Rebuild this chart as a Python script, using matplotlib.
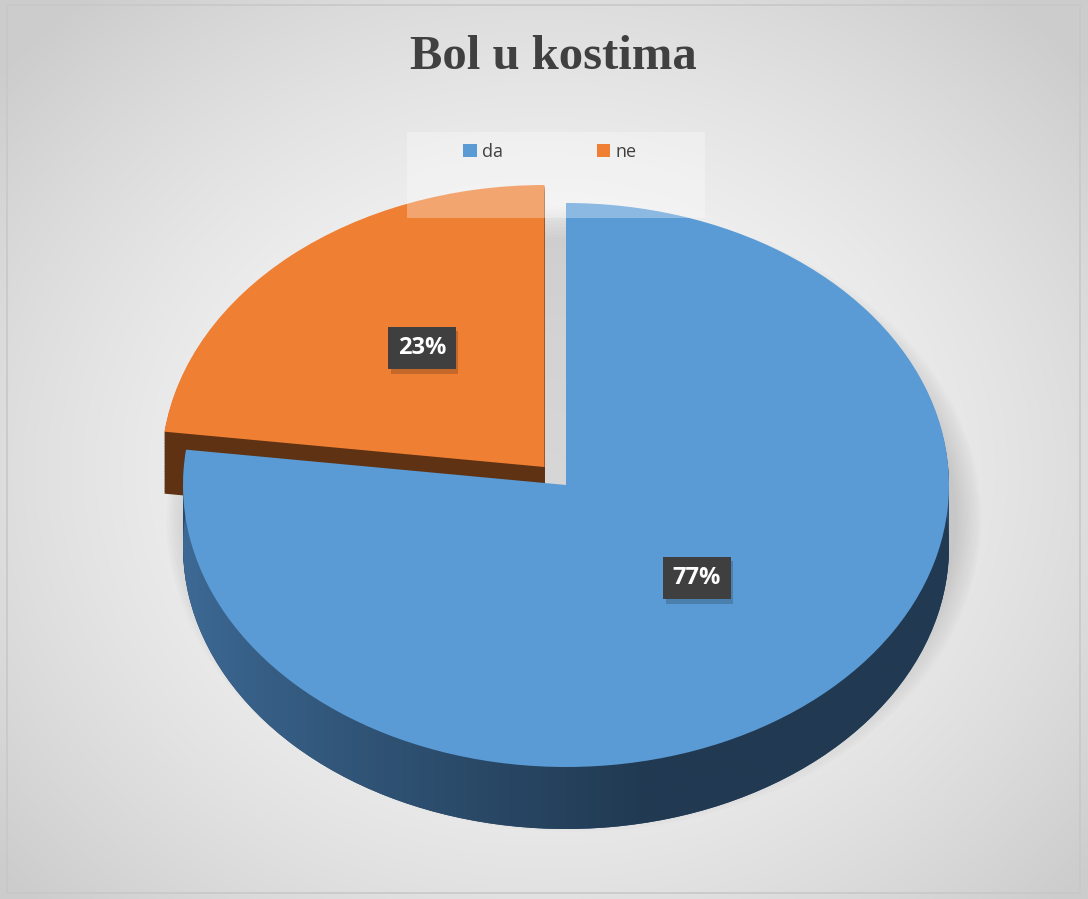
import numpy as np
import matplotlib.pyplot as plt
from matplotlib.patches import Ellipse, Rectangle
import matplotlib.colors as mcolors
import matplotlib.patheffects as pe

# podaci
kategorije = ['da', 'ne']
vrijednosti = [77, 23]
oznake = ['77%', '23%']
boje = ['#5b9bd5', '#ef7f32']
boje_strane = ['#2b4a6a', '#5e3213']

W, H = 1088, 899
fig = plt.figure(figsize=(W / 100, H / 100), dpi=100)

# pozadina - radijalni gradijent
bg = fig.add_axes([0, 0, 1, 1])
yy, xx = np.mgrid[0:H, 0:W]
r = np.sqrt(((xx - 545) / 720.0) ** 2 + ((yy - 470) / 620.0) ** 2)
r = np.clip(r, 0, 1)
c0, c1 = 0.985, 0.80
img = c0 + (c1 - c0) * r ** 1.6
bg.imshow(np.dstack([img, img, img]), extent=[0, W, H, 0], aspect='auto')
bg.set_xlim(0, W)
bg.set_ylim(H, 0)
bg.axis('off')
bg.add_patch(Rectangle((7, 5), 1073, 888, fill=False, edgecolor='#c8c8c8', lw=1.2))
bg.set_zorder(0)

# geometrija pite (pikseli)
cx, cy, rx, ry = 566, 485, 383, 282
dubina = 62 / ry
x0, x1 = cx - rx, cx + rx
ytop, ybot = 150, 880
ax = fig.add_axes([x0 / W, 1 - ybot / H, (x1 - x0) / W, (ybot - ytop) / H])
ax.set_zorder(1)

# sjena
for i in range(10):
    ax.add_patch(Ellipse((0.02, -0.55 * dubina), 2 * (1.0 + 0.007 * i), 2 * (1.0 + 0.012 * i),
                         facecolor='#808080', alpha=0.03, lw=0, zorder=0, clip_on=False))

explode = [0, 0.085]
n_sloj = 40
for k in range(n_sloj, 0, -1):
    dy = -dubina * k / n_sloj
    w, _ = ax.pie(vrijednosti, colors=boje_strane, startangle=90, counterclock=False,
                  explode=explode, center=(0, dy), radius=1.0,
                  wedgeprops=dict(lw=0, antialiased=True))
    for p in w:
        p.set_zorder(1)
    if k == n_sloj:
        donja = w[0]

# gradijent na plavoj strani
grad = np.linspace(0, 1, 300)
c_l = np.array(mcolors.to_rgb('#3f6d9a'))
c_r = np.array(mcolors.to_rgb('#213a52'))
t = np.clip(grad / 0.6, 0, 1) ** 0.8
row = c_l[None, :] * (1 - t[:, None]) + c_r[None, :] * t[:, None]
gimg = np.repeat(row[None, :, :], 10, axis=0)
im = ax.imshow(gimg, extent=[-1.05, 1.05, -1.4, 0.2], aspect='auto', zorder=1.5)
im.set_clip_path(donja)

wedges, _ = ax.pie(vrijednosti, colors=boje, startangle=90, counterclock=False,
                   explode=explode, center=(0, 0), radius=1.0,
                   wedgeprops=dict(lw=0, antialiased=True))
for p in wedges:
    p.set_zorder(2)

ax.set_aspect('auto')
ax.set_xlim(-1, 1)
ax.set_ylim(-(ybot - cy) / ry, (cy - ytop) / ry)
ax.axis('off')

# gornji sloj: prozirni okvir legende, oznake, naslov
top = fig.add_axes([0, 0, 1, 1])
top.set_zorder(3)
top.set_xlim(0, W)
top.set_ylim(H, 0)
top.axis('off')
top.add_patch(Rectangle((407, 132), 298, 86, facecolor='white', alpha=0.3, lw=0))

# oznake postotaka
pozicije = [(697, 578), (422, 348)]
for (px, py), txt in zip(pozicije, oznake):
    t_ = top.text(px, py, txt, ha='center', va='center', fontsize=17, fontweight='bold',
                  family='Open Sans', color='white',
                  bbox=dict(boxstyle='square,pad=0.4', fc='#3f3f3f', ec='none'))
    t_.get_bbox_patch().set_path_effects([
        pe.SimplePatchShadow(offset=(2, -3), shadow_rgbFace='#000000', alpha=0.18),
        pe.Normal()])

# naslov
top.text(553, 57, 'Bol u kostima', ha='center', va='center', fontsize=35, fontweight='bold',
         family='Liberation Serif', color='#404040')

# legenda
leg = top.legend(wedges, kategorije, loc='center', bbox_to_anchor=(550 / W, 1 - 152 / H),
                 ncol=2, frameon=False, handlelength=0.75, handleheight=0.75,
                 handletextpad=0.3, columnspacing=5.2,
                 prop={'family': 'Open Sans', 'size': 13})
for tx in leg.get_texts():
    tx.set_color('#404040')

plt.savefig('out.png', dpi=100)
